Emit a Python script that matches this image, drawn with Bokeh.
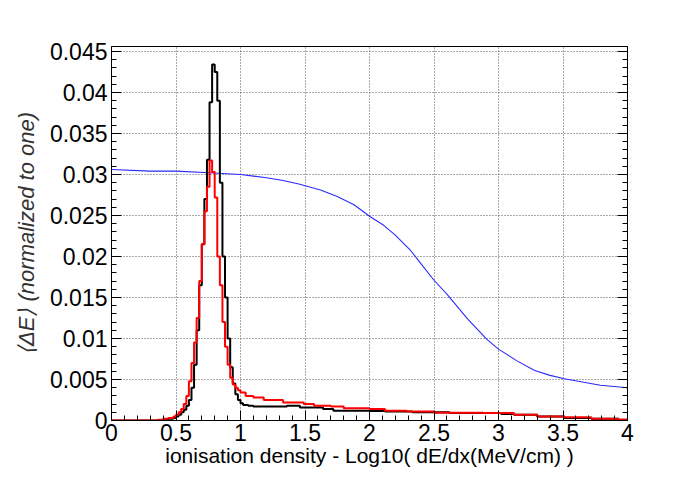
import numpy as np
from bokeh.plotting import figure
from bokeh.models import FixedTicker, LinearAxis, Range1d
from bokeh.embed import file_html
from bokeh.resources import INLINE

# ---------------- data ----------------
x_ticks = [0, 0.5, 1, 1.5, 2, 2.5, 3, 3.5, 4]
x_tick_labels = ["0", "0.5", "1", "1.5", "2", "2.5", "3", "3.5", "4"]
y_ticks = [0, 0.005, 0.01, 0.015, 0.02, 0.025, 0.03, 0.035, 0.04, 0.045]
y_tick_labels = ["0", "0.005", "0.01", "0.015", "0.02", "0.025", "0.03", "0.035", "0.04", "0.045"]

# black histogram: bin edges and contents
black_edges = [0.00, 0.40, 0.44, 0.48, 0.50, 0.52, 0.54, 0.56, 0.58, 0.60, 0.62, 0.64,
               0.66, 0.68, 0.70, 0.72, 0.74, 0.76, 0.78, 0.80, 0.82, 0.84, 0.86, 0.88,
               0.90, 0.92, 0.94, 0.96, 0.98, 1.00, 1.02, 1.06, 1.10, 1.36, 1.46, 1.64,
               1.72, 2.00, 2.12, 2.33, 2.62, 3.02, 3.12, 3.30, 3.51, 3.72, 3.93, 4.00]
black_vals = [0.0, 0.0001, 0.0002, 0.0003, 0.0005, 0.0007, 0.0010, 0.0013, 0.0018, 0.0025,
              0.0040, 0.0068, 0.0110, 0.0165, 0.0215, 0.0270, 0.0318, 0.0388, 0.0434, 0.0425,
              0.0390, 0.0290, 0.0200, 0.0150, 0.0100, 0.0065, 0.0045, 0.0032, 0.0025, 0.0021,
              0.0019, 0.0018, 0.0017, 0.0018, 0.0016, 0.0014, 0.0012, 0.00115, 0.0011, 0.0010,
              0.0009, 0.0008, 0.0007, 0.0005, 0.0003, 0.0002, 0.0001]

# red histogram: bin edges and contents
red_edges = [0.00, 0.36, 0.40, 0.44, 0.48, 0.50, 0.52, 0.54, 0.56, 0.58, 0.60, 0.62, 0.64,
             0.66, 0.68, 0.70, 0.72, 0.74, 0.76, 0.78, 0.80, 0.82, 0.84, 0.86, 0.88, 0.90,
             0.92, 0.94, 0.96, 0.98, 1.00, 1.04, 1.10, 1.18, 1.33, 1.49, 1.57, 1.70, 1.80,
             2.00, 2.12, 2.29, 2.50, 2.88, 3.12, 3.30, 3.51, 3.72, 3.93, 4.00]
red_vals = [0.0, 0.0001, 0.0002, 0.0003, 0.0005, 0.0007, 0.0010, 0.0014, 0.0020, 0.0030,
            0.0048, 0.0070, 0.0095, 0.0125, 0.0170, 0.0215, 0.0255, 0.0285, 0.0317, 0.0303,
            0.0272, 0.0200, 0.0165, 0.0120, 0.0090, 0.0068, 0.0052, 0.0044, 0.0040, 0.0037,
            0.0034, 0.0030, 0.0028, 0.0025, 0.0022, 0.0020, 0.0018, 0.0017, 0.0015, 0.0014,
            0.0012, 0.0011, 0.00095, 0.0009, 0.0007, 0.0005, 0.0004, 0.0002, 0.0001]

# blue curve
blue_x = [0.0, 0.3, 0.5, 0.76, 1.0, 1.1, 1.2, 1.32, 1.46, 1.62, 1.75, 1.88, 2.0, 2.11, 2.2,
          2.32, 2.4, 2.5, 2.6, 2.76, 2.91, 3.0, 3.14, 3.28, 3.4, 3.51, 3.65, 3.79, 4.0]
blue_y = [0.0306, 0.0304, 0.0304, 0.0302, 0.0300, 0.0298, 0.0296, 0.0293, 0.0288, 0.0281,
          0.0273, 0.0263, 0.0249, 0.0238, 0.0226, 0.0207, 0.0191, 0.0171, 0.0154, 0.0124,
          0.0099, 0.0087, 0.0073, 0.0061, 0.0055, 0.0051, 0.0047, 0.0043, 0.0040]

x_title = "ionisation density - Log10( dE/dx(MeV/cm) )"
y_title = "\u27e8\u0394E\u27e9 (normalized to one)"

FONT = "Liberation Sans"

# ---------------- figure ----------------
p = figure(frame_width=516, frame_height=374,
           x_range=Range1d(0, 4), y_range=Range1d(0, 0.0456),
           output_backend="svg", toolbar_location=None,
           min_border_left=111, min_border_top=46, min_border_right=55, min_border_bottom=40)
p.background_fill_color = "white"
p.border_fill_color = "white"
p.outline_line_color = "black"
p.outline_line_width = 1

x_minor = [round(0.1 * i, 2) for i in range(41)]
y_minor = [round(0.001 * i, 4) for i in range(46)]

p.xaxis.ticker = FixedTicker(ticks=x_ticks, minor_ticks=x_minor)
p.yaxis.ticker = FixedTicker(ticks=y_ticks, minor_ticks=y_minor)
p.xaxis.major_label_overrides = {t: l for t, l in zip(x_ticks, x_tick_labels)}
p.yaxis.major_label_overrides = {t: l for t, l in zip(y_ticks, y_tick_labels)}

for ax in (p.xaxis[0], p.yaxis[0]):
    ax.major_tick_in = 10
    ax.major_tick_out = 0
    ax.minor_tick_in = 5
    ax.minor_tick_out = 0
    ax.axis_line_color = "black"
    ax.major_tick_line_color = "black"
    ax.minor_tick_line_color = "black"
    ax.major_label_text_font = FONT
    ax.major_label_text_font_size = "23px"
    ax.major_label_text_color = "black"
    ax.axis_label_text_font = FONT

p.xaxis.axis_label = x_title
p.xaxis.axis_label_text_font_size = "21px"
p.xaxis.axis_label_text_font_style = "normal"
p.xaxis.axis_label_text_color = "black"
p.xaxis.major_label_standoff = 3
p.xaxis.axis_label_standoff = 0

p.yaxis.axis_label = y_title
p.yaxis.axis_label_text_font_size = "22px"
p.yaxis.axis_label_text_font_style = "italic"
p.yaxis.axis_label_text_color = "#333333"
p.yaxis.major_label_standoff = 4
p.yaxis.axis_label_standoff = 8

# right axis with ticks only
ry = LinearAxis(ticker=FixedTicker(ticks=y_ticks, minor_ticks=y_minor))
ry.major_tick_in = 10
ry.major_tick_out = 0
ry.minor_tick_in = 5
ry.minor_tick_out = 0
ry.major_label_text_alpha = 0
ry.major_label_text_font_size = "10px"
ry.axis_line_color = "black"
p.add_layout(ry, "right")

for g, t in ((p.xgrid[0], x_ticks), (p.ygrid[0], y_ticks)):
    g.ticker = FixedTicker(ticks=t)
    g.grid_line_color = "#555555"
    g.grid_line_dash = "1 2"
    g.grid_line_width = 1

# blue curve
p.line(blue_x, blue_y, line_color="#2a2aff", line_width=1.1)

# histograms drawn as steps from edges/contents
p.step(black_edges, black_vals + [black_vals[-1]], mode="after", line_color="black", line_width=2)
p.step(red_edges, red_vals + [red_vals[-1]], mode="after", line_color="red", line_width=2)

open("out.html", "w").write(file_html(p, INLINE))
